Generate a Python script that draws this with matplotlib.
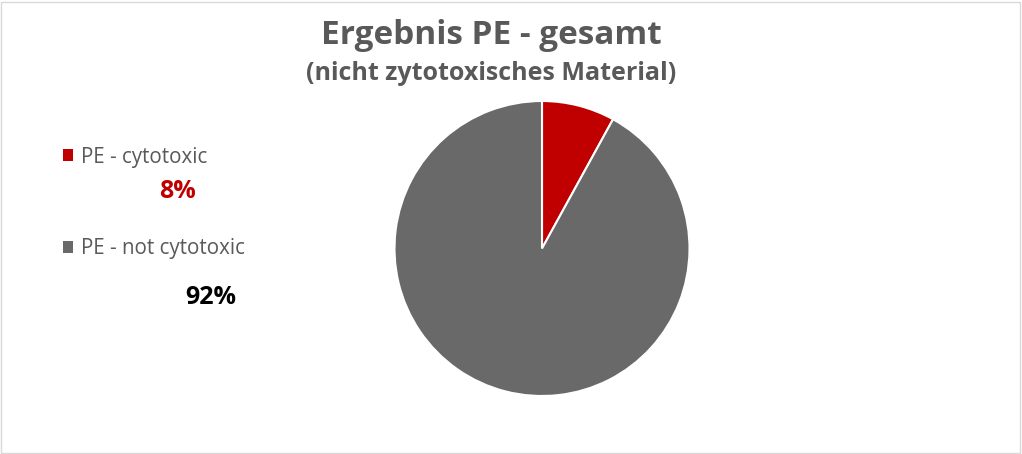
import matplotlib.pyplot as plt
from matplotlib.patches import Rectangle

categories = ['PE - cytotoxic', 'PE - not cytotoxic']
values = [8, 92]
colors = ['#C00000', '#696969']
label_colors = ['#C00000', '#000000']

plt.rcParams['font.family'] = ['Open Sans', 'DejaVu Sans']

W, H = 1022, 454
fig = plt.figure(figsize=(W / 100, H / 100), dpi=100)

# pie axes placed so the circle sits where the reference has it
cx, cy, r = 542, 248.5, 147.5
ax = fig.add_axes([(cx - r) / W, 1 - (cy + r) / H, 2 * r / W, 2 * r / H])
wedges, _ = ax.pie(values, colors=colors, startangle=90, counterclock=False,
                   radius=1, wedgeprops=dict(edgecolor='white', linewidth=1.5))
ax.set_xlim(-1, 1)
ax.set_ylim(-1, 1)
ax.set_aspect('equal')

fig.text(491 / W, 1 - 35 / H, 'Ergebnis PE - gesamt', ha='center', va='center',
         fontsize=24, fontweight='bold', color='#595959')
fig.text(491 / W, 1 - 73 / H, '(nicht zytotoxisches Material)', ha='center', va='center',
         fontsize=18, fontweight='bold', color='#595959')

leg = fig.legend(wedges, categories, loc='upper left', bbox_to_anchor=(44 / W, 1 - 128 / H),
                 frameon=False, fontsize=14.8, labelcolor='#595959',
                 handlelength=0.5, handleheight=0.5, handletextpad=0.4,
                 labelspacing=3.45)
for h in leg.legend_handles:
    h.set_edgecolor('none')

# data labels moved to the left like in the reference
label_pos = [(177, 192), (211, 297)]
total = sum(values)
for v, c, (px, py) in zip(values, label_colors, label_pos):
    fig.text(px / W, 1 - py / H, f'{v / total:.0%}', ha='center', va='center',
             fontsize=18, fontweight='bold', color=c)

fig.patches.append(Rectangle((1 / W, 1 / H), (W - 3) / W, (H - 3) / H,
                             transform=fig.transFigure, fill=False,
                             edgecolor='#D9D9D9', linewidth=1))

fig.savefig('out.png', dpi=100)
